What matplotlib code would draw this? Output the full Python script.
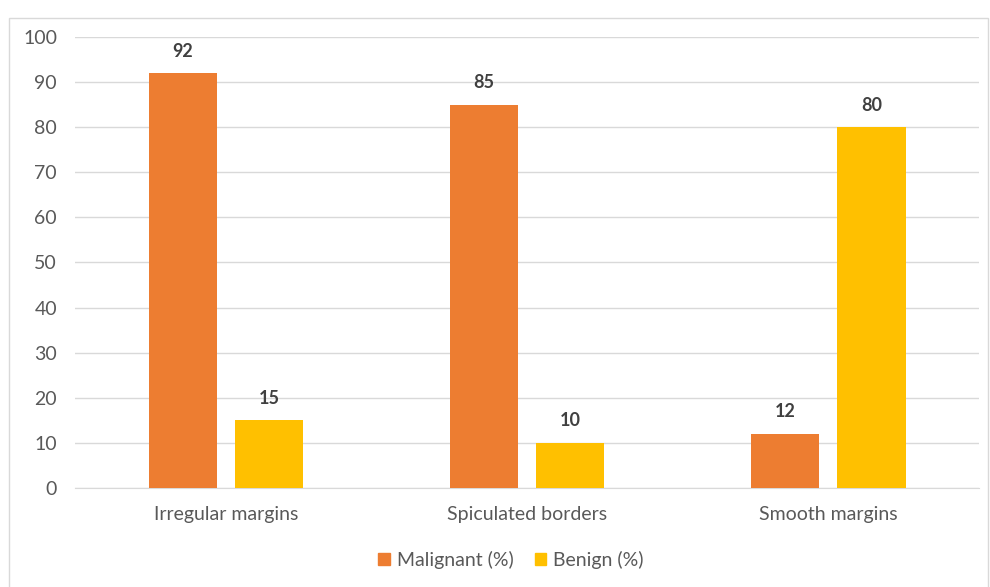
import numpy as np
import matplotlib.pyplot as plt
from matplotlib.patches import Rectangle, Patch

plt.rcParams['font.family'] = ['Lato', 'DejaVu Sans']

categories = ['Irregular margins', 'Spiculated borders', 'Smooth margins']
malignant = [92, 85, 12]
benign = [15, 10, 80]
series_names = ['Malignant (%)', 'Benign (%)']
colors = ['#ED7D31', '#FFC000']

fig = plt.figure(figsize=(9.9, 5.87), dpi=100)
ax = fig.add_axes([0.0758, 0.1687, 0.9132, 0.7683])

x = np.arange(len(categories))
w = 0.226
off = (w + 0.06) / 2
for vals, dx, c in [(malignant, -off, colors[0]), (benign, off, colors[1])]:
    bars = ax.bar(x + dx, vals, width=w, color=c, zorder=3)
    for b, v in zip(bars, vals):
        ax.text(b.get_x() + b.get_width() / 2, v + 3.0, str(v),
                ha='center', va='bottom', fontsize=13, fontweight='bold',
                color='#404040')

ax.set_xlim(-0.5, 2.5)
ax.set_ylim(0, 100)
ax.set_yticks(range(0, 101, 10))
ax.yaxis.grid(True, color='#D9D9D9', linewidth=1, zorder=0)
ax.set_xticks(x)
ax.set_xticklabels(categories)
ax.tick_params(axis='both', length=0, labelsize=14, colors='#595959')
ax.tick_params(axis='y', pad=13)
ax.tick_params(axis='x', pad=13)
for s in ['top', 'right', 'left']:
    ax.spines[s].set_visible(False)
ax.spines['bottom'].set_color('#D9D9D9')

handles = [Patch(color=c) for c in colors]
fig.legend(handles, series_names, loc='center', bbox_to_anchor=(0.516, 0.046),
           ncol=2, frameon=False, fontsize=14, handlelength=0.6,
           handleheight=0.6, columnspacing=1.1, handletextpad=0.35,
           labelcolor='#595959')

# outer chart frame
fig.patches.append(Rectangle((9 / 990, -0.01), 979 / 990, 0.99 - 12 / 587 + 0.01,
                             transform=fig.transFigure, fill=False,
                             edgecolor='#D9D9D9', linewidth=1))

fig.savefig('out.png', dpi=100)
